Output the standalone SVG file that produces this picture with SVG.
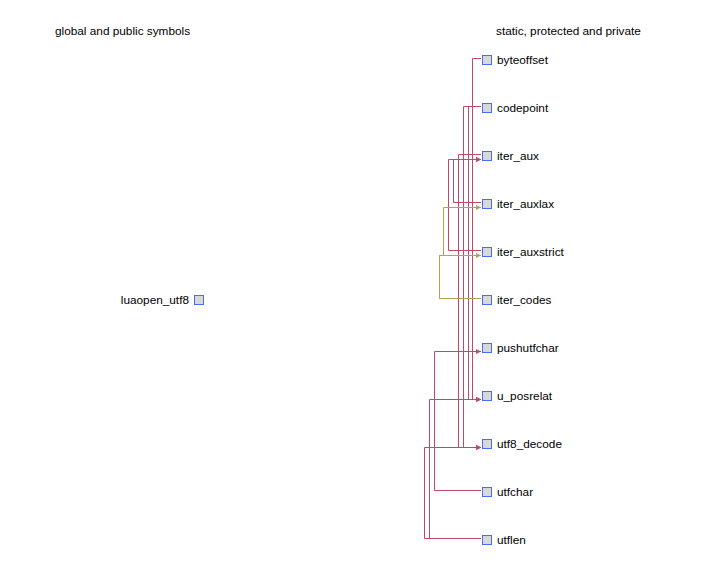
<svg xmlns="http://www.w3.org/2000/svg" width="720" height="573" viewBox="0 0 720 573">
<style>
  text { font-family: "Liberation Sans", Arial, sans-serif; font-size: 11.8px; fill: #000; }
  .box { fill: #d8d8d8; stroke: #4a6ee8; stroke-width: 1; }
  .e { fill: none; stroke: #c04868; stroke-width: 1; }
  .o { fill: none; stroke: #b8a050; stroke-width: 1; }
</style>
<defs>
  <marker id="ar" markerUnits="userSpaceOnUse" viewBox="0 0 5 5" refX="5" refY="2.5" markerWidth="5" markerHeight="5" orient="auto">
    <path d="M0,0 L5,2.5 L0,5 z" fill="#c04868"/>
  </marker>
  <marker id="ao" markerUnits="userSpaceOnUse" viewBox="0 0 5 5" refX="5" refY="2.5" markerWidth="5" markerHeight="5" orient="auto">
    <path d="M0,0 L5,2.5 L0,5 z" fill="#b8a050"/>
  </marker>
</defs>
<rect width="720" height="573" fill="#fff"/>
<text x="55" y="35">global and public symbols</text>
<text x="496" y="35">static, protected and private</text>

<g id="connectors">
  <path class="e" marker-end="url(#ar)" d="M481,58.5 H472.5 V399.5 H481"/>
  <path class="e" marker-end="url(#ar)" d="M481,106.5 H468.5 V399.5 H481"/>
  <path class="e" marker-end="url(#ar)" d="M481,106.5 H463.5 V447.5 H481"/>
  <path class="e" marker-end="url(#ar)" d="M481,154.5 H458.5 V447.5 H481"/>
  <path class="e" marker-end="url(#ar)" d="M481,202.5 H453.5 V159.5 H481"/>
  <path class="e" marker-end="url(#ar)" d="M481,250.5 H448.5 V159.5 H481"/>
  <path class="e" marker-end="url(#ar)" d="M481,490.5 H434.5 V351.5 H481"/>
  <path class="e" marker-end="url(#ar)" d="M481,538.5 H429.5 V399.5 H481"/>
  <path class="e" marker-end="url(#ar)" d="M481,538.5 H424.5 V447.5 H481"/>
  <path class="o" marker-end="url(#ao)" d="M481,298.5 H439.5 V255.5 H481"/>
  <path class="o" marker-end="url(#ao)" d="M481,298.5 H439.5 V255.5 H443.5 V207.5 H481"/>
</g>

<g id="luaopen_utf8"><rect class="box" x="194.5" y="295.5" width="9" height="9"/><text x="189" y="304" text-anchor="end">luaopen_utf8</text></g>
<g id="byteoffset"><rect class="box" x="482.5" y="55.5" width="9" height="9"/><text x="497" y="64">byteoffset</text></g>
<g id="codepoint"><rect class="box" x="482.5" y="103.5" width="9" height="9"/><text x="497" y="112">codepoint</text></g>
<g id="iter_aux"><rect class="box" x="482.5" y="151.5" width="9" height="9"/><text x="497" y="160">iter_aux</text></g>
<g id="iter_auxlax"><rect class="box" x="482.5" y="199.5" width="9" height="9"/><text x="497" y="208">iter_auxlax</text></g>
<g id="iter_auxstrict"><rect class="box" x="482.5" y="247.5" width="9" height="9"/><text x="497" y="256">iter_auxstrict</text></g>
<g id="iter_codes"><rect class="box" x="482.5" y="295.5" width="9" height="9"/><text x="497" y="304">iter_codes</text></g>
<g id="pushutfchar"><rect class="box" x="482.5" y="343.5" width="9" height="9"/><text x="497" y="352">pushutfchar</text></g>
<g id="u_posrelat"><rect class="box" x="482.5" y="391.5" width="9" height="9"/><text x="497" y="400">u_posrelat</text></g>
<g id="utf8_decode"><rect class="box" x="482.5" y="439.5" width="9" height="9"/><text x="497" y="448">utf8_decode</text></g>
<g id="utfchar"><rect class="box" x="482.5" y="487.5" width="9" height="9"/><text x="497" y="496">utfchar</text></g>
<g id="utflen"><rect class="box" x="482.5" y="535.5" width="9" height="9"/><text x="497" y="544">utflen</text></g>
</svg>
